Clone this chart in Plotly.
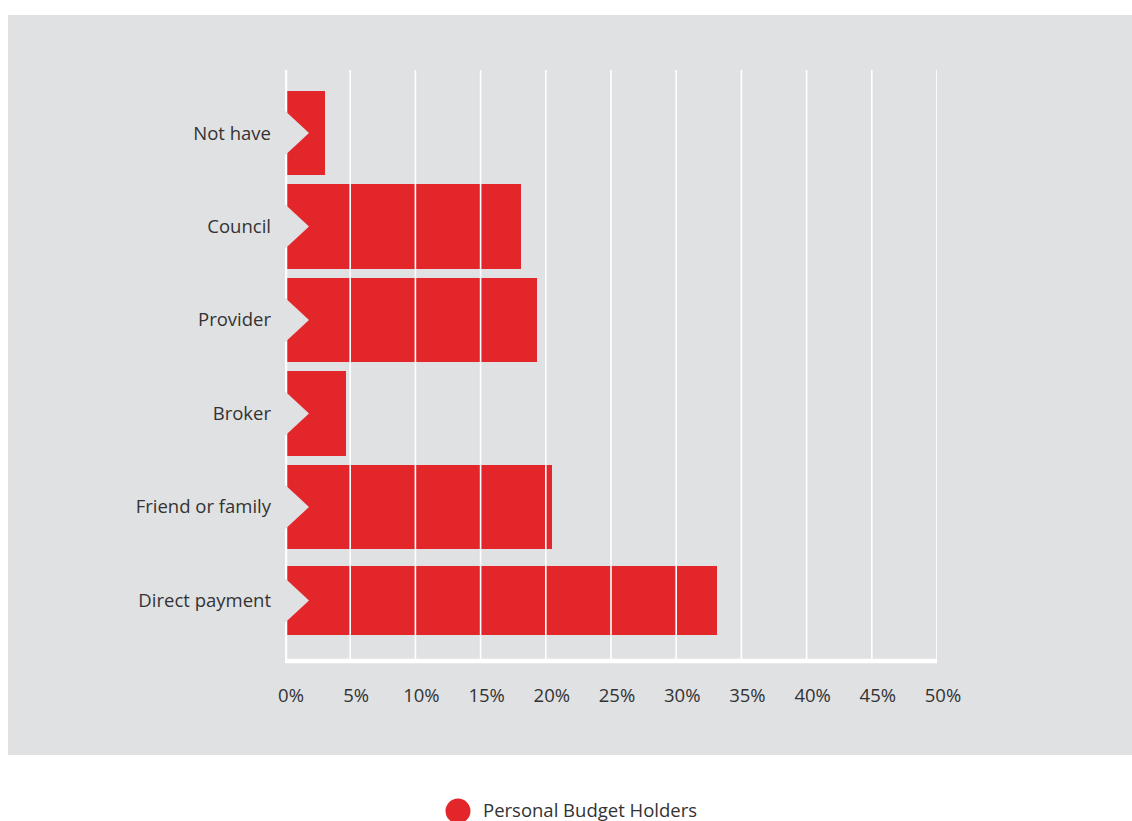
import plotly.graph_objects as go

# Survey answers: who manages the personal budget
categories = ["Not have", "Council", "Provider", "Broker", "Friend or family", "Direct payment"]
shares = [3.1, 18.1, 19.3, 4.7, 20.5, 33.1]          # percent of respondents
bar_widths = [0.9, 0.9, 0.9, 0.9, 0.9, 0.74]
series_name = "Personal Budget Holders"
x_ticks = [0, 5, 10, 15, 20, 25, 30, 35, 40, 45, 50]
x_tick_text = [f"{t}%" for t in x_ticks]

RED = "#e3262a"
PANEL = "#e0e1e3"
TEXT = "#333333"
FONT = "Open Sans"
FS = 18.5

W, H = 1132, 821
L, R, T, B = 285, 195, 70, 160
plot_w = W - L - R
plot_h = H - T - B


def px_to_paper_x(px):
    return (px - L) / plot_w


def px_to_paper_y(py):
    return (H - B - py) / plot_h


y_pos = list(range(len(categories)))

fig = go.Figure()
fig.add_trace(go.Bar(
    x=shares,
    y=y_pos,
    width=bar_widths,
    orientation="h",
    marker=dict(color=RED, line=dict(width=0)),
    name=series_name,
    showlegend=False,
    hovertemplate="%{customdata}: %{x}%<extra></extra>",
    customdata=categories,
))

shapes = []
# grey panel behind the whole chart
shapes.append(dict(
    type="rect", xref="paper", yref="paper", layer="below",
    x0=px_to_paper_x(8), x1=px_to_paper_x(W + 2),
    y0=px_to_paper_y(755), y1=px_to_paper_y(15),
    fillcolor=PANEL, line=dict(width=0),
))
# vertical gridlines drawn over the bars
for t in x_ticks[1:]:
    shapes.append(dict(
        type="line", xref="x", yref="paper", layer="above",
        x0=t, x1=t, y0=0, y1=1,
        line=dict(color="white", width=1.6),
    ))
# axis lines
shapes.append(dict(
    type="line", xref="x", yref="paper", layer="above",
    x0=0, x1=0, y0=-0.002, y1=1,
    line=dict(color="white", width=4.5),
))
shapes.append(dict(
    type="line", xref="x", yref="paper", layer="above",
    x0=0, x1=x_ticks[-1], y0=0, y1=0,
    line=dict(color="white", width=4.5),
))
# chevron notch at the start of every bar
for yi in y_pos:
    shapes.append(dict(
        type="path", xref="x", yref="y", layer="above",
        xsizemode="pixel", ysizemode="pixel",
        xanchor=0, yanchor=yi,
        path="M -3,25 L 24,0 L -3,-25 Z",
        fillcolor=PANEL, line=dict(width=0),
    ))
# legend marker
shapes.append(dict(
    type="circle", xref="paper", yref="paper", layer="above",
    xsizemode="pixel", ysizemode="pixel",
    xanchor=px_to_paper_x(458), yanchor=px_to_paper_y(811),
    x0=-12.5, x1=12.5, y0=-12.5, y1=12.5,
    fillcolor=RED, line=dict(width=0),
))

fig.update_layout(
    width=W, height=H, autosize=False,
    margin=dict(l=L, r=R, t=T, b=B, pad=0),
    paper_bgcolor="white",
    plot_bgcolor="rgba(0,0,0,0)",
    font=dict(family=FONT, size=FS, color=TEXT),
    bargap=0,
    shapes=shapes,
    annotations=[dict(
        xref="paper", yref="paper",
        x=px_to_paper_x(481), y=px_to_paper_y(809),
        xanchor="left", yanchor="middle",
        text=series_name, showarrow=False,
        font=dict(family=FONT, size=FS, color=TEXT),
    )],
    xaxis=dict(
        range=[0, 50], tickvals=x_ticks, ticktext=x_tick_text,
        showgrid=False, zeroline=False, showline=False, ticks="",
        ticklabelstandoff=21, ticklabelshift=6,
        tickfont=dict(family=FONT, size=FS, color=TEXT),
        fixedrange=True,
    ),
    yaxis=dict(
        range=[5.647, -0.674], tickvals=y_pos, ticktext=categories,
        showgrid=False, zeroline=False, showline=False, ticks="",
        ticklabelstandoff=13,
        tickfont=dict(family=FONT, size=FS, color=TEXT),
        fixedrange=True,
    ),
)

fig.write_html("out.html", config={"displayModeBar": False})
